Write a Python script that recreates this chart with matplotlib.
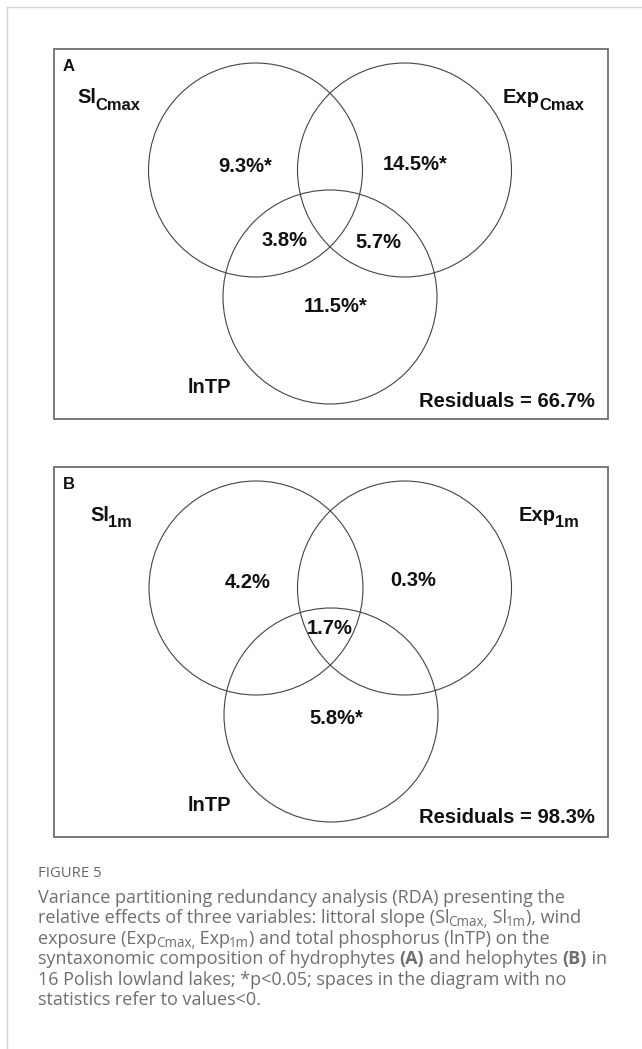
import matplotlib
matplotlib.use('Agg')
import matplotlib.pyplot as plt
from matplotlib.patches import Circle, Rectangle
from matplotlib.font_manager import FontProperties

# values
panels = ['A', 'B']
var_names = [
    [('Sl', 'Cmax'), ('Exp', 'Cmax'), ('lnTP', '')],
    [('Sl', '1m'), ('Exp', '1m'), ('lnTP', '')],
]
# fractions: (region, value, significant)
fractions_a = [('sl', 9.3, True), ('exp', 14.5, True), ('sl_tp', 3.8, False),
               ('exp_tp', 5.7, False), ('tp', 11.5, True)]
fractions_b = [('sl', 4.2, False), ('exp', 0.3, False), ('all', 1.7, False),
               ('tp', 5.8, True)]
residuals = [66.7, 98.3]

W, H = 642, 1049
fig = plt.figure(figsize=(W / 100, H / 100), dpi=100)
ax = fig.add_axes([0, 0, 1, 1])
ax.set_xlim(0, W)
ax.set_ylim(H, 0)
ax.axis('off')
renderer = fig.canvas.get_renderer()

CHART = 'Liberation Sans'
CAP = 'Open Sans'


def adv_w(s, fp):
    # advance width, keeps spaces
    w1, _, _ = renderer.get_text_width_height_descent('|' + s + '|', fp, ismath=False)
    w0, _, _ = renderer.get_text_width_height_descent('||', fp, ismath=False)
    return w1 - w0


def ink_w(s, fp):
    w, _, _ = renderer.get_text_width_height_descent(s, fp, ismath=False)
    return w


def draw_runs(x, y, runs, family, size, color, weight='normal',
              sub_scale=0.72, sub_drop=3, tight=False):
    # runs: list of (text, kind) kind in n / b / s
    for i, (s, kind) in enumerate(runs):
        if kind == 's':
            fp = FontProperties(family=family, size=size * sub_scale, weight=weight)
            yy = y + sub_drop
        else:
            fp = FontProperties(family=family, size=size,
                                weight='bold' if kind == 'b' else weight)
            yy = y
        ax.text(x, yy, s, fontproperties=fp, color=color, va='baseline', ha='left')
        nxt = runs[i + 1][1] if i + 1 < len(runs) else None
        if tight:
            x += ink_w(s, fp) - 1
        else:
            x += adv_w(s, fp) - (1 if nxt == 's' else 0)


# outer frame
ax.plot([7, W], [7, 7], color='#d4d4d4', lw=1)
ax.plot([7, 7], [7, H], color='#d4d4d4', lw=1)

# panel layout
box_top = [49, 467]
box_left, box_right, box_h = 54, 608, 370
r = 107
circles = [[(255.5, 121), (404.5, 121), (330, 248)],
           [(256, 121), (404.5, 121), (331, 248)]]
region_pos = [
    {'sl': (245, 118), 'exp': (415, 116), 'sl_tp': (285, 191),
     'exp_tp': (378, 193), 'tp': (336, 257)},
    {'sl': (248, 115), 'exp': (413, 114), 'all': (330, 161), 'tp': (336, 252)},
]
label_pos = [[(77, 54), (503, 54), (188, 344)],
             [(90, 54), (519, 54), (188, 344)]]
sub_drop = [7, 6]

for k, panel in enumerate(panels):
    top = box_top[k]
    ax.add_patch(Rectangle((box_left, top), box_right - box_left, box_h,
                           fill=False, ec='#6e6e6e', lw=1.3))
    ax.text(63, top + 22, panel, fontfamily=CHART, fontweight='bold',
            fontsize=12, color='#111111', va='baseline', ha='left')
    for cx, cy in circles[k]:
        ax.add_patch(Circle((cx, top + cy), r, fill=False, ec='#444444', lw=0.8))
    for (main, sub), (lx, ly) in zip(var_names[k], label_pos[k]):
        runs = [(main, 'b')]
        if sub:
            runs.append((sub, 's'))
        draw_runs(lx, top + ly, runs, CHART, 14.5, '#111111', weight='bold',
                  sub_scale=0.82, sub_drop=sub_drop[k], tight=True)
    fr = fractions_a if k == 0 else fractions_b
    for reg, val, sig in fr:
        px, py = region_pos[k][reg]
        s = f'{val:.1f}%' + ('*' if sig else '')
        ax.text(px, top + py, s, fontfamily=CHART, fontweight='bold',
                fontsize=14.5, color='#111111', va='center', ha='center')
    ax.text(595, top + box_h - 12 - (2 if k == 1 else 0),
            f'Residuals = {residuals[k]:.1f}%', fontfamily=CHART,
            fontweight='bold', fontsize=14.6, color='#111111',
            va='baseline', ha='right')

# caption
cap_color = '#6f6f6f'
ax.text(38, 877, 'FIGURE 5', fontfamily=CAP, fontsize=10.7, color='#666666',
        va='baseline', ha='left')
caption = [
    [('Variance partitioning redundancy analysis (RDA) presenting the', 'n')],
    [('relative effects of three variables: littoral slope (Sl', 'n'), ('Cmax,', 's'),
     (' Sl', 'n'), ('1m', 's'), ('), wind', 'n')],
    [('exposure (Exp', 'n'), ('Cmax,', 's'), (' Exp', 'n'), ('1m', 's'),
     (') and total phosphorus (lnTP) on the', 'n')],
    [('syntaxonomic composition of hydrophytes ', 'n'), ('(A)', 'b'),
     (' and helophytes ', 'n'), ('(B)', 'b'), (' in', 'n')],
    [('16 Polish lowland lakes; *p<0.05; spaces in the diagram with no', 'n')],
    [('statistics refer to values<0.', 'n')],
]
for i, line in enumerate(caption):
    draw_runs(38, 903 + i * 20.4, line, CAP, 13, cap_color,
              sub_scale=0.75, sub_drop=3)

fig.savefig('out.png', dpi=100)
